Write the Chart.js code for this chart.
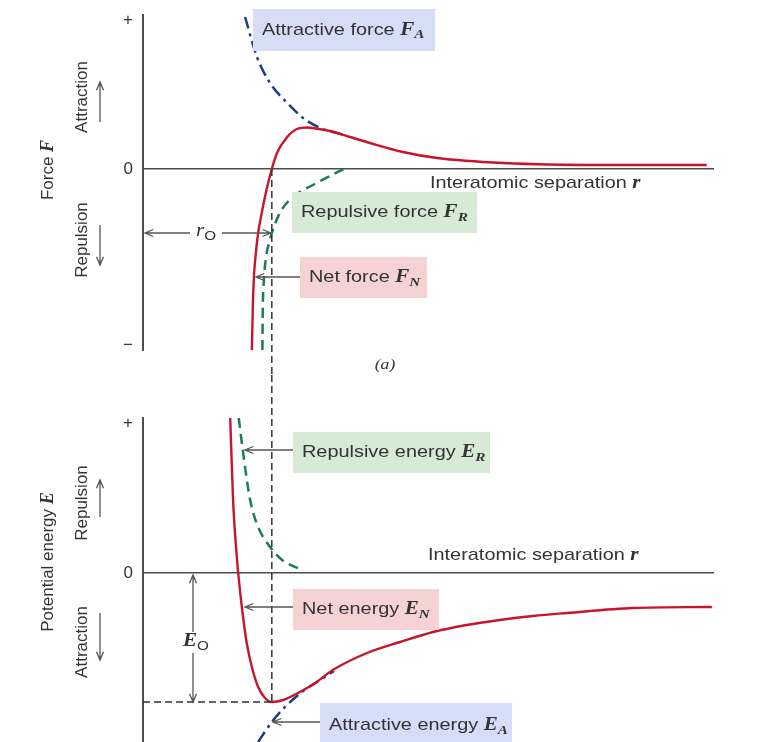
<!DOCTYPE html>
<html lang="en">
<head>
  <meta charset="UTF-8" />
  <title>Interatomic force and potential energy</title>
  <script src="https://cdn.jsdelivr.net/npm/chart.js"></script>
  <style>
    body { margin: 0; background: #fff; overflow: hidden; }
    #wrap { position: relative; width: 757px; height: 742px; }
    canvas { position: absolute; left: 0; }
    #forceChart { top: 0; }
    #energyChart { top: 375px; }
  </style>
</head>
<body>
  <div id="wrap">
    <canvas id="forceChart" width="757" height="375"></canvas>
    <canvas id="energyChart" width="757" height="367"></canvas>
  </div>

  <script>
    // separation r runs 0..10 along both panels
    const r0 = 2.26;
    const E0 = -1.29;

    // (a) force curves
    const netForceR = [1.91, 1.93, 1.95, 1.98, 2.02, 2.09, 2.17, 2.26, 2.35, 2.53, 2.70, 2.88, 3.08, 3.28, 3.63, 3.98, 4.56, 5.16, 6.32, 8.07, 9.89];
    const netForceF = [-1.81, -1.30, -1.04, -0.84, -0.64, -0.42, -0.20, 0, 0.16, 0.32, 0.40, 0.415, 0.40, 0.38, 0.32, 0.26, 0.17, 0.11, 0.06, 0.04, 0.04];
    const attrForceR = [1.79, 2.00, 2.23, 2.53, 2.81, 3.11, 3.28, 3.50];
    const attrForceF = [1.52, 1.12, 0.86, 0.66, 0.51, 0.41, 0.38, 0.345];
    const repForceR = [2.095, 2.10, 2.12, 2.16, 2.22, 2.26, 2.40, 2.63, 2.98, 3.52];
    const repForceF = [-1.81, -1.45, -1.12, -0.88, -0.72, -0.64, -0.44, -0.28, -0.16, 0];

    // (b) energy curves
    const netEnergyR = [1.53, 1.58, 1.65, 1.67, 1.74, 1.82, 1.91, 2.02, 2.14, 2.26, 2.46, 2.72, 3.02, 3.33, 3.93, 4.51, 5.09, 5.68, 6.26, 6.84, 7.44, 8.60, 9.98];
    const netEnergyE = [1.55, 0.73, 0.13, 0, -0.37, -0.70, -0.94, -1.14, -1.25, -1.29, -1.27, -1.20, -1.10, -0.97, -0.80, -0.69, -0.59, -0.52, -0.47, -0.43, -0.40, -0.35, -0.34];
    const repEnergyR = [1.68, 1.75, 1.88, 2.02, 2.23, 2.44, 2.79];
    const repEnergyE = [1.55, 1.23, 0.73, 0.46, 0.26, 0.13, 0.03];
    const attrEnergyR = [2.02, 2.26, 2.49, 2.79, 3.19, 3.35];
    const attrEnergyE = [-1.69, -1.49, -1.34, -1.19, -1.04, -0.98];

    // axis ticks (sign marks only)
    const forceTicks = [-1.76, 0, 1.49];
    const forceTickLabels = ['\u2212', '0', '+'];
    const energyTicks = [0, 1.50];
    const energyTickLabels = ['0', '+'];

    const RED = '#c8142d';
    const BLUE = '#1c3f7a';
    const GREEN = '#1d7a5c';
    const AXIS = '#4d4d4d';
    const TEXT = '#333';
    const SANS = '"Liberation Sans", Arial, sans-serif';
    const SERIF = '"Liberation Serif", "DejaVu Serif", serif';
    const STRETCH = 1.17; // horizontal text in the source is drawn wide

    const pts = (xs, ys) => xs.map((x, i) => ({ x: x, y: ys[i] }));

    function curve(data, color, dash, width) {
      return {
        data: data, showLine: true, borderColor: color, borderWidth: width || 2,
        borderDash: dash || [], pointRadius: 0, cubicInterpolationMode: 'monotone', fill: false
      };
    }

    function scalesFor(min, max, ticks, labels) {
      return {
        x: {
          type: 'linear', min: 0, max: 10, position: { y: 0 },
          ticks: { display: false }, grid: { display: false, drawTicks: false },
          border: { color: AXIS, width: 1.5 }
        },
        y: {
          type: 'linear', min: min, max: max,
          afterBuildTicks: s => { s.ticks = ticks.map(v => ({ value: v })); },
          afterFit: s => { s.width = 143; s.paddingTop = 0; s.paddingBottom = 0; },
          ticks: {
            padding: 10, color: TEXT, font: { family: SANS, size: 17 },
            callback: v => labels[ticks.indexOf(v)]
          },
          grid: { display: false, drawTicks: false },
          border: { color: AXIS, width: 2 }
        }
      };
    }

    // ---- drawing helpers for the labels round the curves ----
    function drawRich(ctx, parts, x, y, align, sx) {
      sx = sx || 1;
      let w = 0;
      parts.forEach(p => { ctx.font = p.font; w += ctx.measureText(p.text).width; });
      ctx.save();
      ctx.translate(x, y);
      ctx.scale(sx, 1);
      let cx = align === 'center' ? -w / 2 : 0;
      ctx.textAlign = 'left';
      ctx.textBaseline = 'middle';
      parts.forEach(p => {
        ctx.font = p.font;
        ctx.fillStyle = TEXT;
        ctx.fillText(p.text, cx, p.dy || 0);
        cx += ctx.measureText(p.text).width;
      });
      ctx.restore();
    }

    function arrow(ctx, x1, y1, x2, y2) {
      ctx.save();
      ctx.strokeStyle = '#555';
      ctx.lineWidth = 1.3;
      ctx.setLineDash([]);
      ctx.beginPath();
      ctx.moveTo(x1, y1);
      ctx.lineTo(x2, y2);
      const a = Math.atan2(y2 - y1, x2 - x1);
      ctx.moveTo(x2 - 9 * Math.cos(a - 0.4), y2 - 9 * Math.sin(a - 0.4));
      ctx.lineTo(x2, y2);
      ctx.lineTo(x2 - 9 * Math.cos(a + 0.4), y2 - 9 * Math.sin(a + 0.4));
      ctx.stroke();
      ctx.restore();
    }

    function dashed(ctx, x1, y1, x2, y2) {
      ctx.save();
      ctx.strokeStyle = '#333';
      ctx.lineWidth = 1.5;
      ctx.setLineDash([7, 4]);
      ctx.beginPath();
      ctx.moveTo(x1, y1);
      ctx.lineTo(x2, y2);
      ctx.stroke();
      ctx.restore();
    }

    function box(ctx, x, y, w, h, fill, parts) {
      ctx.fillStyle = fill;
      ctx.fillRect(x, y, w, h);
      drawRich(ctx, parts, x + 9, y + h / 2, 'left', STRETCH);
    }

    function sideLabel(ctx, parts, x, y) {
      ctx.save();
      ctx.translate(x, y);
      ctx.rotate(-Math.PI / 2);
      drawRich(ctx, parts, 0, 0, 'center');
      ctx.restore();
    }

    const txt = t => ({ text: t, font: '17px ' + SANS });
    const sym = t => ({ text: t, font: 'italic bold 18px ' + SERIF });
    const sub = t => ({ text: t, font: 'italic bold 13px ' + SERIF, dy: 5 });
    const subN = t => ({ text: t, font: '13px ' + SANS, dy: 5 });

    const forceLabels = {
      id: 'forceLabels',
      afterDraw(chart) {
        const ctx = chart.ctx;
        const xs = chart.scales.x, ys = chart.scales.y;
        const xr0 = xs.getPixelForValue(r0);
        ctx.save();
        dashed(ctx, xr0, ys.getPixelForValue(0), xr0, 375);

        box(ctx, 253, 9, 182, 42, '#d6def7', [txt('Attractive force '), sym('F'), sub('A')]);
        box(ctx, 292, 192, 185, 41, '#d7ead6', [txt('Repulsive force '), sym('F'), sub('R')]);
        box(ctx, 300, 257, 127, 41, '#f6d3d3', [txt('Net force '), sym('F'), sub('N')]);
        arrow(ctx, 300, 277, 256, 277);

        // r0 dimension
        arrow(ctx, 190, 233, 145, 233);
        arrow(ctx, 222, 233, xr0 - 1, 233);
        drawRich(ctx, [{ text: 'r', font: 'italic 18px ' + SERIF }, subN('O')], 206, 231, 'center', STRETCH);

        drawRich(ctx, [txt('Interatomic separation '), sym('r')], 430, 183, 'left', STRETCH);
        drawRich(ctx, [{ text: '(a)', font: 'italic 15px ' + SERIF }], 385, 365, 'center', STRETCH);

        sideLabel(ctx, [txt('Force '), sym('F')], 48, 170);
        sideLabel(ctx, [txt('Attraction')], 82, 97);
        sideLabel(ctx, [txt('Repulsion')], 82, 240);
        arrow(ctx, 100, 122, 100, 82);
        arrow(ctx, 100, 225, 100, 265);
        ctx.restore();
      }
    };

    const energyLabels = {
      id: 'energyLabels',
      afterDraw(chart) {
        const ctx = chart.ctx;
        const xs = chart.scales.x, ys = chart.scales.y;
        const xr0 = xs.getPixelForValue(r0);
        const yE0 = ys.getPixelForValue(E0);
        const yZero = ys.getPixelForValue(0);
        ctx.save();
        // page coordinates from here on
        ctx.translate(0, -375);
        dashed(ctx, xr0, 375, xr0, yE0 + 375);
        dashed(ctx, 143, yE0 + 375, xr0, yE0 + 375);

        box(ctx, 293, 432, 197, 41, '#d7ead6', [txt('Repulsive energy '), sym('E'), sub('R')]);
        arrow(ctx, 293, 450, 245, 450);
        box(ctx, 293, 589, 146, 41, '#f6d3d3', [txt('Net energy '), sym('E'), sub('N')]);
        arrow(ctx, 293, 607, 245, 607);
        box(ctx, 320, 703, 192, 45, '#d6def7', [txt('Attractive energy '), sym('E'), sub('A')]);
        arrow(ctx, 320, 722, 273, 722);

        // E0 dimension
        arrow(ctx, 193, 632, 193, yZero + 377);
        arrow(ctx, 193, 653, 193, yE0 + 375);
        drawRich(ctx, [sym('E'), subN('O')], 196, 641, 'center', STRETCH);

        drawRich(ctx, [txt('Interatomic separation '), sym('r')], 428, 555, 'left', STRETCH);

        sideLabel(ctx, [txt('Potential energy '), sym('E')], 48, 562);
        sideLabel(ctx, [txt('Repulsion')], 82, 503);
        sideLabel(ctx, [txt('Attraction')], 82, 642);
        arrow(ctx, 100, 517, 100, 480);
        arrow(ctx, 100, 613, 100, 660);
        ctx.restore();
      }
    };

    const forceChart = new Chart(document.getElementById('forceChart').getContext('2d'), {
      type: 'scatter',
      data: {
        datasets: [
          curve(pts(netForceR, netForceF), RED, [], 2.4),
          curve(pts(repForceR, repForceF), GREEN, [10, 6], 2.5),
          curve(pts(attrForceR, attrForceF), BLUE, [12, 5, 3, 5], 2.5)
        ]
      },
      options: {
        responsive: false, animation: false,
        layout: { padding: { top: 15, right: 44, bottom: 25, left: 0 } },
        plugins: { legend: { display: false }, tooltip: { enabled: false } },
        scales: scalesFor(-1.81, 1.54, forceTicks, forceTickLabels)
      },
      plugins: [forceLabels]
    });

    const energyChart = new Chart(document.getElementById('energyChart').getContext('2d'), {
      type: 'scatter',
      data: {
        datasets: [
          curve(pts(netEnergyR, netEnergyE), RED, [], 2.4),
          curve(pts(repEnergyR, repEnergyE), GREEN, [10, 6], 2.5),
          curve(pts(attrEnergyR, attrEnergyE), BLUE, [12, 5, 3, 5], 2.5)
        ]
      },
      options: {
        responsive: false, animation: false,
        layout: { padding: { top: 43, right: 44, bottom: 0, left: 0 } },
        plugins: { legend: { display: false }, tooltip: { enabled: false } },
        scales: scalesFor(-1.69, 1.55, energyTicks, energyTickLabels)
      },
      plugins: [energyLabels]
    });
  </script>
</body>
</html>
